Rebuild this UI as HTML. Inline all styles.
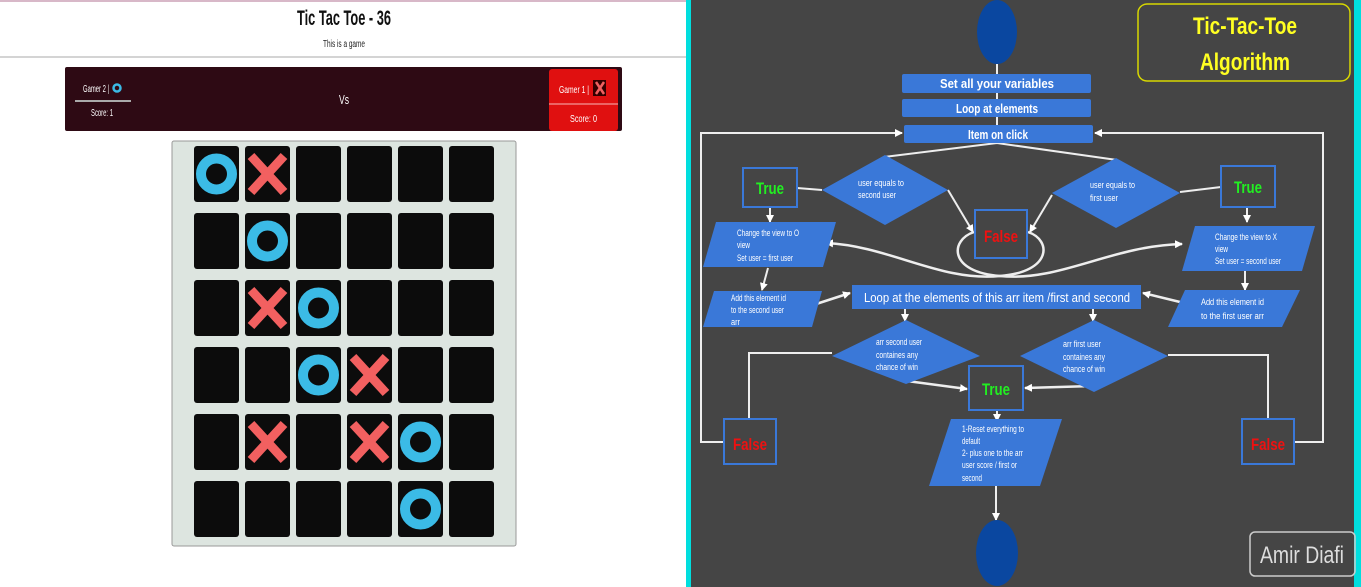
<!DOCTYPE html>
<html><head><meta charset="utf-8"><style>
html,body{margin:0;padding:0;background:#fff;}
svg{display:block;font-family:"Liberation Sans",sans-serif;}
</style></head><body>
<svg width="1361" height="587" viewBox="0 0 1361 587" xmlns="http://www.w3.org/2000/svg">
<defs>
<marker id="ar" markerWidth="8" markerHeight="8" refX="7" refY="4" orient="auto" markerUnits="userSpaceOnUse"><path d="M0,0 L8,4 L0,8 z" fill="#fff"/></marker>
<g id="cell"><rect width="45" height="56" rx="3" fill="#0c0c0c"/></g>
<g id="O"><circle cx="22.5" cy="28" r="15.5" fill="none" stroke="#3bbbe6" stroke-width="10"/></g>
<g id="X"><path d="M6,10 L39,46 M39,10 L6,46" stroke="#f26060" stroke-width="9"/></g>
</defs>
<rect x="0" y="0" width="687" height="587" fill="#fff"/>
<line x1="0" y1="1" x2="687" y2="1" stroke="#d8b8c8" stroke-width="2"/>
<line x1="0" y1="57" x2="687" y2="57" stroke="#aaa" stroke-width="1"/>
<text x="344" y="25" font-size="21" font-weight="bold" text-anchor="middle" textLength="94" lengthAdjust="spacingAndGlyphs" fill="#111">Tic Tac Toe - 36</text>
<text x="344" y="47" font-size="10" text-anchor="middle" textLength="42" lengthAdjust="spacingAndGlyphs" fill="#222">This is a game</text>
<rect x="65" y="67" width="557" height="64" rx="2" fill="#2e0a14"/>
<text x="83" y="92" font-size="10" fill="#fff" textLength="26" lengthAdjust="spacingAndGlyphs">Gamer 2 |</text>
<circle cx="117" cy="88" r="3.5" fill="none" stroke="#3bbbe6" stroke-width="2.5"/>
<line x1="75" y1="101" x2="131" y2="101" stroke="#aaa" stroke-width="2"/>
<text x="91" y="116" font-size="10" fill="#fff" textLength="22" lengthAdjust="spacingAndGlyphs">Score: 1</text>
<text x="344" y="104" font-size="13" fill="#fff" text-anchor="middle" textLength="10" lengthAdjust="spacingAndGlyphs">Vs</text>
<rect x="549" y="69" width="69" height="62" rx="3" fill="#e01010"/>
<line x1="549" y1="104" x2="618" y2="104" stroke="#f08080" stroke-width="1.5"/>
<text x="559" y="93" font-size="10" fill="#fff" textLength="30" lengthAdjust="spacingAndGlyphs">Gamer 1 |</text>
<rect x="593" y="80" width="13" height="16" fill="#300"/>
<path d="M596,82 L604,94 M604,82 L596,94" stroke="#f26060" stroke-width="2.5"/>
<text x="570" y="122" font-size="10" fill="#fff" textLength="27" lengthAdjust="spacingAndGlyphs">Score: 0</text>
<rect x="172" y="141" width="344" height="405" rx="2" fill="#dde5e0" stroke="#999" stroke-width="1"/>
<g>
<use href="#cell" x="194" y="146"/><use href="#cell" x="245" y="146"/><use href="#cell" x="296" y="146"/><use href="#cell" x="347" y="146"/><use href="#cell" x="398" y="146"/><use href="#cell" x="449" y="146"/>
<use href="#cell" x="194" y="213"/><use href="#cell" x="245" y="213"/><use href="#cell" x="296" y="213"/><use href="#cell" x="347" y="213"/><use href="#cell" x="398" y="213"/><use href="#cell" x="449" y="213"/>
<use href="#cell" x="194" y="280"/><use href="#cell" x="245" y="280"/><use href="#cell" x="296" y="280"/><use href="#cell" x="347" y="280"/><use href="#cell" x="398" y="280"/><use href="#cell" x="449" y="280"/>
<use href="#cell" x="194" y="347"/><use href="#cell" x="245" y="347"/><use href="#cell" x="296" y="347"/><use href="#cell" x="347" y="347"/><use href="#cell" x="398" y="347"/><use href="#cell" x="449" y="347"/>
<use href="#cell" x="194" y="414"/><use href="#cell" x="245" y="414"/><use href="#cell" x="296" y="414"/><use href="#cell" x="347" y="414"/><use href="#cell" x="398" y="414"/><use href="#cell" x="449" y="414"/>
<use href="#cell" x="194" y="481"/><use href="#cell" x="245" y="481"/><use href="#cell" x="296" y="481"/><use href="#cell" x="347" y="481"/><use href="#cell" x="398" y="481"/><use href="#cell" x="449" y="481"/>
<use href="#O" x="194" y="146"/><use href="#X" x="245" y="146"/>
<use href="#O" x="245" y="213"/>
<use href="#X" x="245" y="280"/><use href="#O" x="296" y="280"/>
<use href="#O" x="296" y="347"/><use href="#X" x="347" y="347"/>
<use href="#X" x="245" y="414"/><use href="#X" x="347" y="414"/><use href="#O" x="398" y="414"/>
<use href="#O" x="398" y="481"/>
</g>
<rect x="686" y="0" width="675" height="587" fill="#00dede"/>
<rect x="691" y="0" width="663" height="587" fill="#454545"/>
<g fill="none" stroke="#eee" stroke-width="2">
<line x1="997" y1="64" x2="997" y2="74"/>
<line x1="997" y1="93" x2="997" y2="99"/>
<line x1="997" y1="117" x2="997" y2="125"/>
<polyline points="724,442 701,442 701,133 902,133" marker-end="url(#ar)"/>
<polyline points="1294,442 1323,442 1323,133 1095,133" marker-end="url(#ar)"/>
<polyline points="884,157 997,143 1117,160"/>
<line x1="797" y1="188" x2="822" y2="190"/>
<line x1="1180" y1="192" x2="1221" y2="187"/>
<line x1="948" y1="190" x2="973" y2="232" marker-end="url(#ar)"/>
<line x1="1052" y1="195" x2="1030" y2="232" marker-end="url(#ar)"/>
<path d="M974,232 C950,240 948,272 1000,276 C1060,282 1110,246 1182,244" marker-end="url(#ar)" stroke-width="2.5"/>
<path d="M1028,232 C1052,240 1052,272 1000,276 C940,282 890,246 826,243" marker-end="url(#ar)" stroke-width="2.5"/>
<line x1="770" y1="207" x2="770" y2="222" marker-end="url(#ar)"/>
<line x1="1247" y1="207" x2="1247" y2="222" marker-end="url(#ar)"/>
<line x1="768" y1="268" x2="762" y2="290" marker-end="url(#ar)"/>
<line x1="1245" y1="270" x2="1245" y2="290" marker-end="url(#ar)"/>
<line x1="810" y1="306" x2="850" y2="293" marker-end="url(#ar)" stroke-width="2.5"/>
<line x1="1180" y1="302" x2="1143" y2="293" marker-end="url(#ar)" stroke-width="2.5"/>
<line x1="905" y1="309" x2="905" y2="321" marker-end="url(#ar)"/>
<line x1="1093" y1="309" x2="1093" y2="321" marker-end="url(#ar)"/>
<line x1="907" y1="381" x2="967" y2="389" marker-end="url(#ar)" stroke-width="2.5"/>
<line x1="1093" y1="386" x2="1025" y2="388" marker-end="url(#ar)" stroke-width="2.5"/>
<polyline points="832,353 749,353 749,419"/>
<polyline points="1168,355 1268,355 1268,419"/>
<line x1="997" y1="411" x2="997" y2="421" marker-end="url(#ar)"/>
<line x1="996" y1="486" x2="996" y2="520" marker-end="url(#ar)"/>
</g>
<ellipse cx="997" cy="32" rx="20" ry="32" fill="#0a47a0"/>
<ellipse cx="997" cy="553" rx="21" ry="33" fill="#0a47a0"/>
<g fill="#3a78d8">
<rect x="902" y="74" width="189" height="19" rx="2"/>
<rect x="902" y="99" width="189" height="18" rx="2"/>
<rect x="904" y="125" width="189" height="18" rx="2"/>
<polygon points="822,190 885,155 948,190 885,225"/>
<polygon points="1052,193 1116,158 1180,193 1116,228"/>
<polygon points="716,222 836,222 823,267 703,267"/>
<polygon points="1195,226 1315,226 1302,271 1182,271"/>
<polygon points="714,291 822,291 812,327 703,327"/>
<polygon points="1185,290 1300,290 1282,327 1168,327"/>
<rect x="852" y="285" width="289" height="24"/>
<polygon points="832,356 906,320 980,356 906,384"/>
<polygon points="1020,356 1094,320 1168,356 1094,392"/>
<polygon points="951,419 1062,419 1040,486 929,486"/>
</g>
<g fill="none" stroke="#3a78d8" stroke-width="2">
<rect x="743" y="168" width="54" height="39"/>
<rect x="1221" y="166" width="54" height="41"/>
<rect x="975" y="210" width="52" height="48"/>
<rect x="969" y="366" width="54" height="44"/>
<rect x="724" y="419" width="52" height="45"/>
<rect x="1242" y="419" width="52" height="45"/>
</g>
<g font-weight="bold" text-anchor="middle" font-size="17">
<text x="770" y="194" fill="#22ee22" textLength="28" lengthAdjust="spacingAndGlyphs">True</text>
<text x="1248" y="193" fill="#22ee22" textLength="28" lengthAdjust="spacingAndGlyphs">True</text>
<text x="996" y="395" fill="#22ee22" textLength="28" lengthAdjust="spacingAndGlyphs">True</text>
<text x="1001" y="242" fill="#ee1111" textLength="34" lengthAdjust="spacingAndGlyphs">False</text>
<text x="750" y="450" fill="#ee1111" textLength="34" lengthAdjust="spacingAndGlyphs">False</text>
<text x="1268" y="450" fill="#ee1111" textLength="34" lengthAdjust="spacingAndGlyphs">False</text>
</g>
<g fill="#fff" font-size="13" font-weight="bold" text-anchor="middle">
<text x="997" y="88" textLength="114" lengthAdjust="spacingAndGlyphs">Set all your variables</text>
<text x="997" y="113" textLength="82" lengthAdjust="spacingAndGlyphs">Loop at elements</text>
<text x="998" y="139" textLength="60" lengthAdjust="spacingAndGlyphs">Item on click</text>
<text x="997" y="302" font-weight="normal" textLength="266" lengthAdjust="spacingAndGlyphs">Loop at the elements of this arr item /first and second</text>
</g>
<g fill="#fff" font-size="9">
<text x="858" y="186" textLength="46" lengthAdjust="spacingAndGlyphs">user  equals to</text>
<text x="858" y="198" textLength="38" lengthAdjust="spacingAndGlyphs">second user</text>
<text x="1090" y="188" textLength="45" lengthAdjust="spacingAndGlyphs">user  equals to</text>
<text x="1090" y="201" textLength="28" lengthAdjust="spacingAndGlyphs">first user</text>
<text x="737" y="236" textLength="62" lengthAdjust="spacingAndGlyphs">Change the view to O</text>
<text x="737" y="248" textLength="13" lengthAdjust="spacingAndGlyphs">view</text>
<text x="737" y="261" textLength="56" lengthAdjust="spacingAndGlyphs">Set user = first user</text>
<text x="1215" y="240" textLength="62" lengthAdjust="spacingAndGlyphs">Change the view to X</text>
<text x="1215" y="252" textLength="13" lengthAdjust="spacingAndGlyphs">view</text>
<text x="1215" y="264" textLength="66" lengthAdjust="spacingAndGlyphs">Set user = second user</text>
<text x="731" y="301" textLength="55" lengthAdjust="spacingAndGlyphs">Add this element id</text>
<text x="731" y="313" textLength="53" lengthAdjust="spacingAndGlyphs">to the second user</text>
<text x="731" y="325" textLength="9" lengthAdjust="spacingAndGlyphs">arr</text>
<text x="1201" y="305" textLength="63" lengthAdjust="spacingAndGlyphs">Add this element id</text>
<text x="1201" y="319" textLength="63" lengthAdjust="spacingAndGlyphs">to the first  user arr</text>
<text x="876" y="345" textLength="46" lengthAdjust="spacingAndGlyphs">arr second user</text>
<text x="876" y="358" textLength="42" lengthAdjust="spacingAndGlyphs">containes any</text>
<text x="876" y="370" textLength="42" lengthAdjust="spacingAndGlyphs">chance of win</text>
<text x="1063" y="347" textLength="38" lengthAdjust="spacingAndGlyphs">arr first user</text>
<text x="1063" y="360" textLength="42" lengthAdjust="spacingAndGlyphs">containes any</text>
<text x="1063" y="372" textLength="42" lengthAdjust="spacingAndGlyphs">chance of win</text>
<text x="962" y="432" textLength="62" lengthAdjust="spacingAndGlyphs">1-Reset everything to</text>
<text x="962" y="444" textLength="18" lengthAdjust="spacingAndGlyphs">default</text>
<text x="962" y="456" textLength="61" lengthAdjust="spacingAndGlyphs">2- plus one to the arr</text>
<text x="962" y="468" textLength="55" lengthAdjust="spacingAndGlyphs">user score / first or</text>
<text x="962" y="481" textLength="20" lengthAdjust="spacingAndGlyphs">second</text>
</g>
<rect x="1138" y="4" width="212" height="77" rx="9" fill="none" stroke="#d8d800" stroke-width="1.5"/>
<text x="1245" y="34" font-size="24" font-weight="bold" fill="#ffff22" text-anchor="middle" textLength="104" lengthAdjust="spacingAndGlyphs">Tic-Tac-Toe</text>
<text x="1245" y="70" font-size="24" font-weight="bold" fill="#ffff22" text-anchor="middle" textLength="90" lengthAdjust="spacingAndGlyphs">Algorithm</text>
<rect x="1250" y="532" width="105" height="44" rx="5" fill="none" stroke="#ccc" stroke-width="1.5"/>
<text x="1302" y="563" font-size="24" fill="#ddd" text-anchor="middle" textLength="84" lengthAdjust="spacingAndGlyphs">Amir Diafi</text>
</svg>
</body></html>
